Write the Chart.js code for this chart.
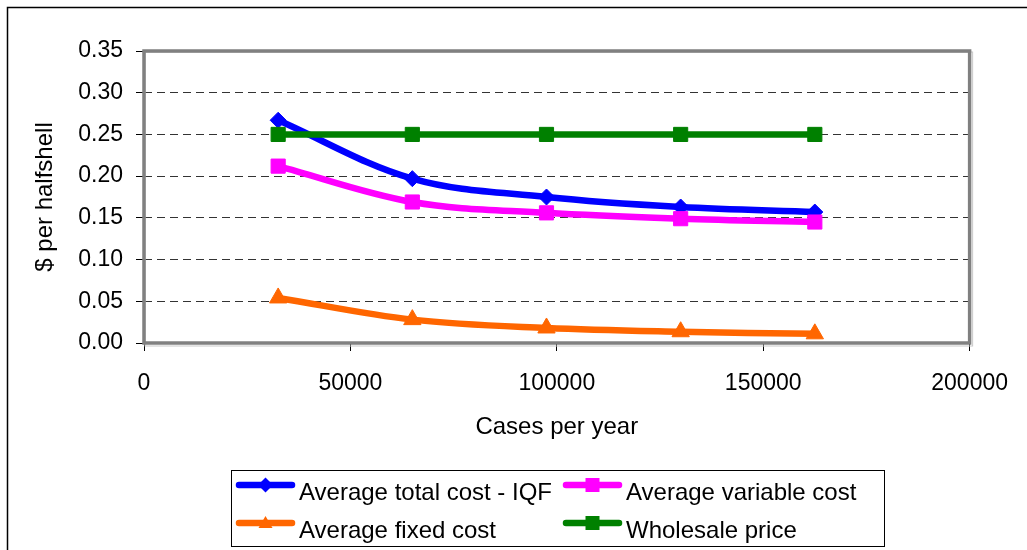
<!DOCTYPE html>
<html>
<head>
<meta charset="utf-8">
<script src="https://cdn.jsdelivr.net/npm/chart.js@4"></script>
<style>
  html, body { margin: 0; padding: 0; background: #fff; }
  #wrap { width: 1027px; height: 550px; }
</style>
</head>
<body>
<div id="wrap"><canvas id="myChart"></canvas></div>
<script>
// values
const casesPerYear = [32500, 65000, 97500, 130000, 162500];
const totalCost = [0.267, 0.197, 0.175, 0.163, 0.157];
const variableCost = [0.212, 0.169, 0.156, 0.149, 0.145];
const fixedCost = [0.054, 0.028, 0.018, 0.0135, 0.011];
const wholesalePrice = [0.25, 0.25, 0.25, 0.25, 0.25];

const seriesNames = ['Average total cost - IQF', 'Average variable cost', 'Average fixed cost', 'Wholesale price'];
const seriesColors = ['#0000ff', '#ff00ff', '#ff6600', '#008000'];
const seriesMarkers = ['rectRot', 'rect', 'triangle', 'rect'];

const FONT = '"Liberation Sans", Arial, sans-serif';

function points(ys) {
    return casesPerYear.map((x, i) => ({x: x, y: ys[i]}));
}

function series(i, ys, radius, order) {
    return {
        label: seriesNames[i],
        data: points(ys),
        borderColor: seriesColors[i],
        backgroundColor: seriesColors[i],
        borderWidth: 6.5,
        pointStyle: seriesMarkers[i],
        pointRadius: radius,
        pointBorderWidth: 1,
        tension: 0.35,
        order: order
    };
}

// small marker for the legend keys
function marker(ctx, style, x, y, r, color) {
    ctx.fillStyle = color;
    ctx.beginPath();
    if (style === 'rectRot') {
        ctx.moveTo(x, y - r); ctx.lineTo(x + r, y); ctx.lineTo(x, y + r); ctx.lineTo(x - r, y);
    } else if (style === 'rect') {
        ctx.rect(x - r, y - r, 2 * r, 2 * r);
    } else {
        ctx.moveTo(x, y - r); ctx.lineTo(x + r, y + r * 0.7); ctx.lineTo(x - r, y + r * 0.7);
    }
    ctx.closePath();
    ctx.fill();
}

const frame = {
    id: 'frame',
    beforeDraw(chart) {
        const ctx = chart.ctx;
        ctx.save();
        ctx.strokeStyle = '#000';
        ctx.lineWidth = 1.5;
        ctx.strokeRect(7.5, 7.5, 1200, 700);
        ctx.restore();
    },
    afterDatasetsDraw(chart) {
        const a = chart.chartArea;
        const ctx = chart.ctx;
        ctx.save();
        ctx.strokeStyle = '#c8c8c8';
        ctx.lineWidth = 1;
        ctx.strokeRect(a.left + 1, a.top + 1, a.right - a.left + 2, a.bottom - a.top + 2);
        ctx.strokeStyle = '#808080';
        ctx.lineWidth = 3.5;
        ctx.strokeRect(a.left, a.top, a.right - a.left, a.bottom - a.top);
        ctx.restore();
    },
    afterDraw(chart) {
        const ctx = chart.ctx;
        ctx.save();
        ctx.strokeStyle = '#000';
        ctx.lineWidth = 1;
        ctx.strokeRect(231.5, 470.5, 653, 76);
        const colX = [236, 563];
        const rowY = [485, 523];
        ctx.font = '24px ' + FONT;
        ctx.textBaseline = 'middle';
        ctx.textAlign = 'left';
        for (let i = 0; i < seriesNames.length; i++) {
            const x = colX[i % 2];
            const y = rowY[Math.floor(i / 2)];
            ctx.strokeStyle = seriesColors[i];
            ctx.lineWidth = 6.5;
            ctx.lineCap = 'round';
            ctx.beginPath();
            ctx.moveTo(x + 3, y);
            ctx.lineTo(x + 56, y);
            ctx.stroke();
            marker(ctx, seriesMarkers[i], x + 29.5, y, seriesMarkers[i] === 'rectRot' ? 7.5 : 7, seriesColors[i]);
            ctx.fillStyle = '#000';
            ctx.fillText(seriesNames[i], x + 63, y + 8);
        }
        ctx.restore();
    }
};

const ctx = document.getElementById('myChart');
new Chart(ctx, {
    type: 'line',
    data: {
        datasets: [
            series(0, totalCost, 8, 3),
            series(1, variableCost, 10, 2),
            series(2, fixedCost, 10, 1),
            series(3, wholesalePrice, 10, 0)
        ]
    },
    options: {
        responsive: true,
        maintainAspectRatio: false,
        animation: false,
        layout: {
            padding: {left: 0, top: 51, right: 53, bottom: 107}
        },
        plugins: {
            legend: {display: false},
            tooltip: {enabled: false}
        },
        scales: {
            x: {
                type: 'linear',
                min: 0,
                max: 200000,
                afterFit(scale) { scale.height = 100; },
                border: {display: false},
                grid: {
                    drawOnChartArea: false,
                    drawTicks: true,
                    tickLength: 8,
                    tickColor: '#000',
                    tickWidth: 1
                },
                ticks: {
                    stepSize: 50000,
                    padding: 19,
                    color: '#000',
                    maxRotation: 0,
                    font: {family: FONT, size: 23},
                    callback: (v) => String(v)
                },
                title: {
                    display: true,
                    text: 'Cases per year',
                    color: '#000',
                    font: {family: FONT, size: 24},
                    padding: {top: 0, bottom: 1}
                }
            },
            y: {
                min: 0,
                max: 0.35,
                afterFit(scale) { scale.width = 144; },
                border: {display: false, dash: [8, 5]},
                grid: {
                    color: '#333',
                    lineWidth: 1,
                    tickLength: 8,
                    tickColor: '#000',
                    tickWidth: 1,
                    tickBorderDash: []
                },
                ticks: {
                    stepSize: 0.05,
                    padding: 13,
                    color: '#000',
                    font: {family: FONT, size: 23},
                    callback: (v) => v.toFixed(2)
                },
                title: {
                    display: true,
                    text: '$ per halfshell',
                    color: '#000',
                    font: {family: FONT, size: 24},
                    padding: {top: 31, bottom: 0}
                }
            }
        }
    },
    plugins: [frame]
});
</script>
</body>
</html>
